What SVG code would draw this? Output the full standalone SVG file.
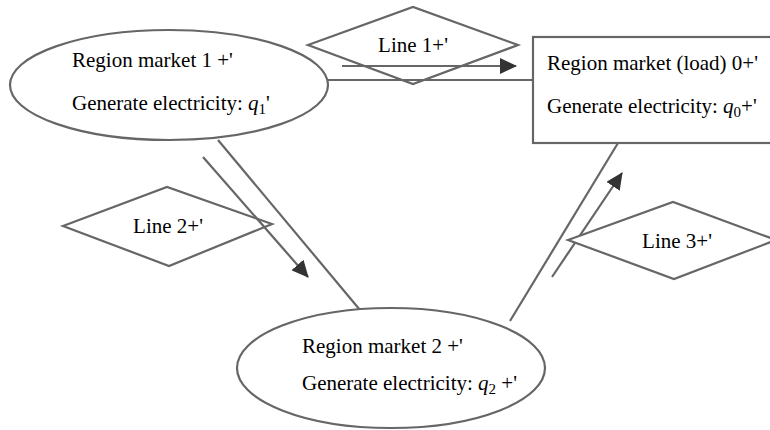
<svg xmlns="http://www.w3.org/2000/svg" width="770" height="430" viewBox="0 0 770 430">
<defs>
<style>
.shape{fill:#fff;stroke:#666;stroke-width:2.2}
.open{fill:none}
.ln{fill:none;stroke:#666;stroke-width:2.2}
.t{font-family:"Liberation Serif","Times New Roman",serif;font-size:21px;fill:#000}
.i{font-style:italic}
.sub{font-size:15px}
</style>
<marker id="ah" markerWidth="17" markerHeight="16" refX="16" refY="8" orient="auto" markerUnits="userSpaceOnUse" viewBox="0 0 17 16">
<path d="M0,0 L17,8 L0,16 Z" fill="#333"/>
</marker>
</defs>
<g id="connectors">
<line class="ln" x1="328" y1="80" x2="533" y2="80"/>
<line class="ln" x1="218" y1="140" x2="360" y2="310"/>
<line class="ln" x1="510" y1="321" x2="618" y2="143"/>
<line class="ln" x1="342" y1="66" x2="516" y2="66" marker-end="url(#ah)"/>
<line class="ln" x1="203" y1="157" x2="308" y2="277" marker-end="url(#ah)"/>
<line class="ln" x1="552" y1="277" x2="622" y2="173" marker-end="url(#ah)"/>
</g>
<g id="node-region1">
<ellipse class="shape" cx="169" cy="85" rx="159" ry="55"/>
<text class="t" x="72" y="67">Region market 1 +'</text>
<text class="t" x="72" y="110">Generate electricity: <tspan class="i">q</tspan><tspan class="sub" dy="4">1</tspan><tspan dy="-4">'</tspan></text>
</g>
<g id="node-line1">
<polygon class="shape open" points="308,45 413,7 518,45 413,84"/>
<text class="t" x="413" y="52" text-anchor="middle">Line 1+'</text>
</g>
<g id="node-region0">
<rect class="shape" x="533" y="37" width="250" height="106"/>
<text class="t" x="547" y="70">Region market (load) 0+'</text>
<text class="t" x="547" y="113">Generate electricity: <tspan class="i">q</tspan><tspan class="sub" dy="4">0</tspan><tspan dy="-4">+'</tspan></text>
</g>
<g id="node-line2">
<polygon class="shape open" points="63,226 167,187 272,224 169,266"/>
<text class="t" x="168" y="233" text-anchor="middle">Line 2+'</text>
</g>
<g id="node-line3">
<polygon class="shape" points="568,240 673,202 776,240 674,279"/>
<text class="t" x="677" y="248" text-anchor="middle">Line 3+'</text>
</g>
<g id="node-region2">
<ellipse class="shape" cx="391" cy="368" rx="154" ry="60"/>
<text class="t" x="302" y="353">Region market 2 +'</text>
<text class="t" x="302" y="390">Generate electricity: <tspan class="i">q</tspan><tspan class="sub" dy="4">2</tspan><tspan dy="-4"> +'</tspan></text>
</g>
</svg>
